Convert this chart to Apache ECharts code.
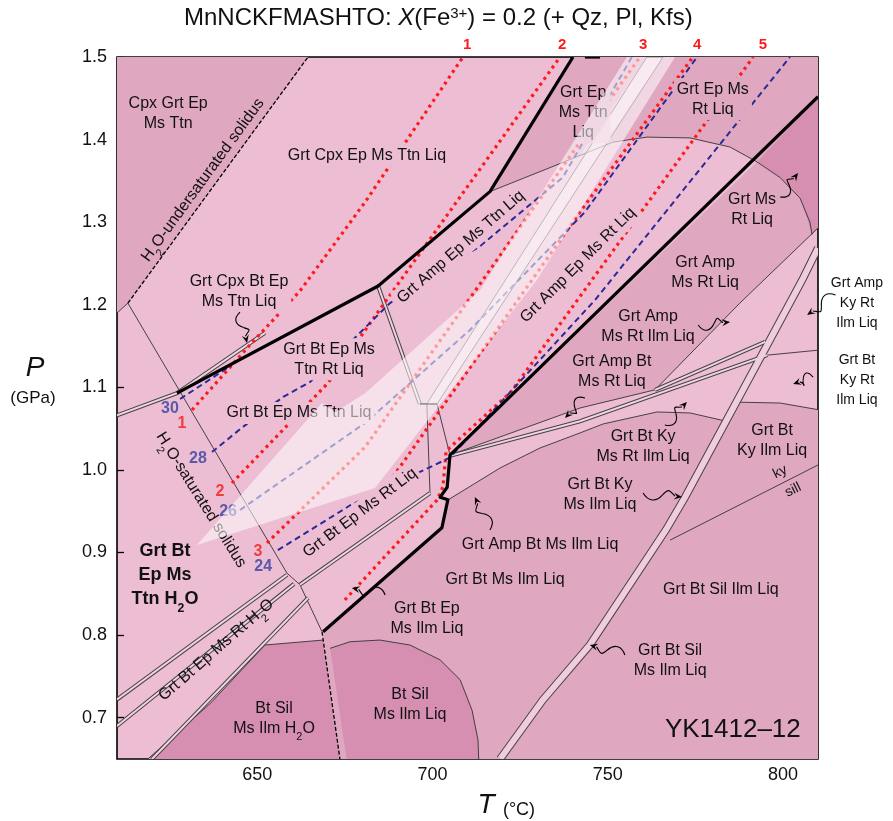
<!DOCTYPE html>
<html><head><meta charset="utf-8">
<script src="https://cdn.jsdelivr.net/npm/echarts@6/dist/echarts.min.js"></script>
<style>html,body{margin:0;background:#fff}#c{width:893px;height:821px}</style>
</head><body><div id="c"></div>
<script>
// ---------------- DATA (T in °C, P in GPa) ----------------
const xTicks = [650, 700, 750, 800];
const yTicks = [0.7, 0.8, 0.9, 1.0, 1.1, 1.2, 1.3, 1.4, 1.5];

const fieldsMedium = [
  [[610,1.5],[664.5,1.5],[613.1,1.202],[610,1.19]],
  [[716.4,1.337],[740.1,1.5],[761.2,1.5],[742.1,1.381]],
  [[765.8,1.5],[810,1.5],[810,1.452],[792.6,1.373],[784.9,1.391],[773.5,1.402],[761.2,1.403],[749.2,1.397]],
  [[705,1.018],[792.6,1.373],[799.2,1.354],[804.9,1.329],[808.3,1.285],[810,1.293],[787.7,1.202],[763.5,1.097],[742.1,1.075]],
  [[668.8,0.804],[702.7,0.930],[704.4,0.9636],[719.3,1.0024],[730.7,1.0266],[742.1,1.0448],[748.7,1.0557],[764.1,1.0702],[773.5,1.069],[783.5,1.0593],[787.7,1.082],[799.2,1.081],[810,1.073],[810,0.65],[673.6,0.65]]
];
const fieldsDark = [
  [[792.6,1.373],[810,1.452],[810,1.293],[808.3,1.285],[804.9,1.329],[799.2,1.354]],
  [[618.8,0.65],[636.8,0.718],[652.2,0.788],[668.8,0.794],[673.6,0.65]],
  [[670.8,0.784],[676.5,0.792],[685,0.794],[693.6,0.788],[702.2,0.770],[707.9,0.746],[711.3,0.709],[713,0.673],[713.2,0.65],[675.5,0.65]]
];
const whiteBand = [[632.8,0.909],[668.5,1.081],[672.2,1.070],[680.8,1.093],[713.6,1.218],[755.5,1.5],[769.2,1.5],[729.8,1.230],[683.6,0.978]];
const innerBand = [[761.2,1.5],[765.8,1.5],[701.3,1.080],[698.4,1.080]];

const thickLines = [
  [[627.1,1.093],[684.5,1.2227],[716.4,1.337],[740.1,1.5]],
  [[743.5,1.5],[747.8,1.5]],
  [[668.8,0.804],[702.7,0.930],[704.4,0.964],[702.2,0.967],[704.2,0.979],[705,1.018],[810,1.452]]
];
const thinLines = [
  [[613.1,1.202],[658.5,0.875],[662.2,0.861],[668.5,0.804]],
  [[613.1,1.202],[610,1.19]],
  [[716.4,1.337],[733.5,1.366],[751.5,1.397],[761.2,1.403],[773.5,1.402],[784.9,1.391],[792.6,1.373],[799.2,1.354],[804.9,1.329],[807.7,1.300],[808.3,1.285]],
  [[810,1.293],[787.7,1.202],[763.5,1.097]],
  [[705,1.018],[742.1,1.075],[763.5,1.097]],
  [[761.2,1.5],[698.4,1.080],[699.3,0.972]],
  [[765.8,1.5],[701.3,1.080],[705,1.018]],
  [[704.4,0.9636],[719.3,1.0024],[730.7,1.0266],[742.1,1.0448],[748.7,1.0557],[764.1,1.0702],[773.5,1.069],[783.5,1.0593]],
  [[787.7,1.082],[799.2,1.081],[810,1.073]],
  [[810,1.006],[767.8,0.915]],
  [[652.2,0.788],[668.8,0.794]],
  [[618.8,0.65],[636.8,0.718],[652.2,0.788]],
  [[795.5,1.139],[810,1.145]],
  [[670.8,0.784],[676.5,0.792],[685,0.794],[693.6,0.788],[702.2,0.770],[707.9,0.746],[711.3,0.709],[713,0.673],[713.2,0.65]]
];
const shortBars = [[[696.4,1.080],[701.3,1.080]]];
const doubleLines = [
  [[684.5,1.2227],[696.4,1.080]],
  [[610,1.066],[627.1,1.093],[652.2,1.166]],
  [[705,1.017],[742.1,1.059],[795.5,1.139]],
  [[763.5,1.097],[794.9,1.155]],
  [[610,0.722],[658.5,0.873]],
  [[610,0.690],[660.5,0.862]],
  [[620,0.65],[664.5,0.845]],
  [[662.2,0.861],[699.3,0.972]]
];
const wideBands = [
  [[810,1.2687],[805.5,1.230],[795.5,1.1513],[772.1,0.9673],[766.6,0.9273],[744.9,0.788],[731.5,0.7215],[719.3,0.65]]
];
const dashedBlack = [
  [[613.1,1.202],[664.5,1.5]],
  [[668.5,0.804],[673.6,0.65]]
];
const redIso = [
  [[631.4,1.0726],[647.4,1.1489],[662.2,1.2167],[680.8,1.3244],[708.7,1.5]],
  [[642.8,0.9842],[670.2,1.1053],[686.5,1.2034],[736.4,1.5]],
  [[652.8,0.9116],[680.8,1.0278],[759.2,1.5]],
  [[688.7,0.9915],[742.1,1.3123],[774.3,1.5]],
  [[675.0,0.8426],[701.3,0.9636],[703.0,0.9794],[703.9,1.023],[722.4,1.0944],[791.5,1.5]]
];
const blueIso = [
  [[628.0,1.0859],[642.8,1.1271]],
  [[637.1,1.0217],[645.9,1.052],[657.4,1.0884],[665.1,1.1065],[687.9,1.2021],[713.6,1.2711],[737.2,1.3542],[756.9,1.5]],
  [[645.1,0.9515],[680.8,1.0569],[710.7,1.1695],[743.5,1.3123],[775.5,1.5]],
  [[655.9,0.903],[676.5,0.957],[705.0,1.015],[746.4,1.2058],[802.0,1.5]]
];

// field labels: [T, P, text]
const labelPos = [
  [624.6,1.431,'Cpx Grt Ep\nMs Ttn'],
  [634.5,1.351,'H{s|2}O-undersaturated solidus'],
  [681.3,1.381,'Grt Cpx Ep Ms Ttn Liq'],
  [644.8,1.2155,'Grt Cpx Bt Ep\nMs Ttn Liq'],
  [670.5,1.134,'Grt Bt Ep Ms\nTtn Rt Liq'],
  [661.9,1.069,'Grt Bt Ep Ms Ttn Liq'],
  [708.1,1.270,'Grt Amp Ep Ms Ttn Liq'],
  [743.0,1.433,'Grt Ep\nMs Ttn\nLiq'],
  [780.0,1.449,'Grt Ep Ms\nRt Liq'],
  [741.5,1.248,'Grt Amp Ep Ms Rt Liq'],
  [791.2,1.3155,'Grt Ms\nRt Liq'],
  [777.8,1.2385,'Grt Amp\nMs Rt Liq'],
  [761.5,1.174,'Grt Amp\nMs Rt Ilm Liq'],
  [751.2,1.119,'Grt Amp Bt\nMs Rt Liq'],
  [760.1,1.028,'Grt Bt Ky\nMs Rt Ilm Liq'],
  [747.8,0.970,'Grt Bt Ky\nMs Ilm Liq'],
  [796.9,1.036,'Grt Bt\nKy Ilm Liq'],
  [679.3,0.948,'Grt Bt Ep Ms Rt Liq'],
  [730.7,0.9092,'Grt Amp Bt Ms Ilm Liq'],
  [720.7,0.8668,'Grt Bt Ms Ilm Liq'],
  [698.4,0.8196,'Grt Bt Ep\nMs Ilm Liq'],
  [782.3,0.8546,'Grt Bt Sil Ilm Liq'],
  [767.8,0.7687,'Grt Bt Sil\nMs Ilm Liq'],
  [693.6,0.7154,'Bt Sil\nMs Ilm Liq'],
  [654.8,0.6995,'Bt Sil\nMs Ilm H{s|2}O'],
  [638.3,0.782,'Grt Bt Ep Ms Rt H{s|2}O'],
  [634.0,0.9636,'H{s|2}O-saturated solidus'],
  [799.2,0.9975,'ky'],
  [802.9,0.9757,'sill']
];
const labelRot = [0,54,0,0,0,0,41,0,0,45,0,0,0,0,0,0,0,37,0,0,0,0,0,0,0,41,-58,26,26];
const labelBg  = ['','','L','L','L','L','L','M','M','L','','','','','','','','L','','','','','','','','','','',''];
const boldLabel = [[623.7,0.8728,'Grt Bt\nEp Ms\nTtn H{s|2}O']];
const outsideLabels = [
  [821.1,1.2021,'Grt Amp\nKy Rt\nIlm Liq'],
  [821.1,1.1089,'Grt Bt\nKy Rt\nIlm Liq']
];
const sampleLabel = [[785.7,0.6851,'YK1412–12']];
const redNums = [[709.9,1.5145,'1'],[737.0,1.5145,'2'],[760.1,1.5145,'3'],[775.5,1.5145,'4'],[794.3,1.5145,'5'],
                 [628.5,1.0556,'1'],[639.4,0.9733,'2'],[650.2,0.9007,'3']];
const blueNums = [[625.1,1.0738,'30'],[633.1,1.0132,'28'],[641.7,0.9491,'26'],[651.7,0.8825,'24']];
// squiggle arrows: [start, end]
const arrows = [
  [[645.1,1.1912],[647.1,1.1537]],
  [[799.2,1.3305],[804.3,1.3596]],
  [[775.8,1.1755],[784.9,1.1791]],
  [[743.5,1.0871],[737.8,1.0629]],
  [[766.3,1.0544],[772.6,1.0823]],
  [[760.1,0.9721],[771.2,0.9673]],
  [[716.4,0.9273],[712.1,0.9673]],
  [[686.5,0.8486],[677.0,0.8571]],
  [[754.9,0.7759],[744.9,0.7881]],
  [[815.0,1.2118],[806.9,1.1876]],
  [[808.6,1.1125],[802.9,1.1041]]
];

// ---------------- RENDERING ----------------
const COL = {L:'#ECBDD3', M:'#E0A7C1', D:'#D68FB1'};
const FONT = '"Liberation Sans", Arial, Helvetica, sans-serif';
const chart = echarts.init(document.getElementById('c'));

function polySeries(polys, style, z, clip=true) {
  return {
    type:'custom', coordinateSystem:'cartesian2d', clip, z, silent:true,
    data: polys.map((p,i)=>[p[0][0],p[0][1],i]),
    renderItem:(params, api)=>({type:'polygon', shape:{points: polys[params.dataIndex].map(pt=>api.coord(pt))}, style})
  };
}
function lineSeries(lines, style, z) {
  return {
    type:'custom', coordinateSystem:'cartesian2d', clip:true, z, silent:true,
    data: lines.map((p,i)=>[p[0][0],p[0][1],i]),
    renderItem:(params, api)=>({type:'polyline', shape:{points: lines[params.dataIndex].map(pt=>api.coord(pt))}, style: Object.assign({fill:null}, style)})
  };
}
function textSeries(items, opts, z) {
  return {
    type:'custom', coordinateSystem:'cartesian2d', clip:false, z, silent:true,
    data: items.map((p,i)=>[p[0],p[1],i]),
    renderItem:(params, api)=>{
      const i = params.dataIndex, it = items[i];
      const c = api.coord([it[0], it[1]]);
      const o = typeof opts === 'function' ? opts(i) : opts;
      const sz = o.size||16;
      return {type:'text', x:c[0], y:c[1], rotation:(o.rot||0)*Math.PI/180,
        style:{text:it[2], align:o.align||'center', verticalAlign:'middle', fill:o.color||'#111',
          font:(o.weight||'normal')+' '+sz+'px '+FONT, lineHeight:o.lh||20,
          backgroundColor:o.bg||null, padding:o.bg?[1,3]:0,
          rich:{s:{fontSize:sz*0.68, verticalAlign:'bottom', fontWeight:o.weight||'normal', fontFamily:FONT, padding:[0,0,-4,0]}}}};
    }
  };
}
function arrowSeries(items, z) {
  return {
    type:'custom', coordinateSystem:'cartesian2d', clip:false, z, silent:true,
    data: items.map((p,i)=>[p[0][0],p[0][1],i]),
    renderItem:(params, api)=>{
      const a = items[params.dataIndex];
      const p0 = api.coord(a[0]), p1 = api.coord(a[1]);
      const dx = p1[0]-p0[0], dy = p1[1]-p0[1], L = Math.hypot(dx,dy);
      const ux = dx/L, uy = dy/L, nx = -uy, ny = ux, w = 5;
      const m = [p0[0]+dx*0.5, p0[1]+dy*0.5];
      const hb = [p1[0]-ux*7, p1[1]-uy*7];
      return {type:'group', children:[
        {type:'bezierCurve', shape:{x1:p0[0],y1:p0[1],x2:m[0],y2:m[1],cpx1:p0[0]+dx*0.15+nx*w*1.6,cpy1:p0[1]+dy*0.15+ny*w*1.6,cpx2:m[0]-dx*0.15+nx*w*1.6,cpy2:m[1]-dy*0.15+ny*w*1.6}, style:{stroke:'#000',lineWidth:1.1,fill:null}},
        {type:'bezierCurve', shape:{x1:m[0],y1:m[1],x2:hb[0],y2:hb[1],cpx1:m[0]+dx*0.15-nx*w*1.6,cpy1:m[1]+dy*0.15-ny*w*1.6,cpx2:hb[0]-ux*6-nx*w,cpy2:hb[1]-uy*6-ny*w}, style:{stroke:'#000',lineWidth:1.1,fill:null}},
        {type:'polygon', shape:{points:[p1,[hb[0]+nx*3.5-ux*1,hb[1]+ny*3.5-uy*1],[p1[0]-ux*5,p1[1]-uy*5],[hb[0]-nx*3.5-ux*1,hb[1]-ny*3.5-uy*1]]}, style:{fill:'#000'}}
      ]};
    }
  };
}

const labelOpts = i => ({rot: labelRot[i], bg: labelBg[i] ? COL[labelBg[i]] : null, size: (i>=27?14:16), lh: 20});

const option = {
  animation:false,
  backgroundColor:'#fff',
  grid:{left:117, right:75, top:57, bottom:62, show:true, backgroundColor:COL.L, borderColor:'#000', borderWidth:1.6},
  xAxis:{type:'value', min:610, max:810, splitLine:{show:false}, axisLine:{show:false},
    axisTick:{inside:true, length:7, customValues:xTicks, lineStyle:{color:'#000', width:1.3}},
    axisLabel:{customValues:xTicks, fontSize:18, color:'#111', margin:7, fontFamily:FONT}},
  yAxis:{type:'value', min:0.65, max:1.5, splitLine:{show:false}, axisLine:{show:false},
    axisTick:{inside:true, length:7, customValues:yTicks, lineStyle:{color:'#000', width:1.3}},
    axisLabel:{customValues:yTicks, fontSize:18, color:'#111', margin:10, fontFamily:FONT, formatter:v=>v.toFixed(1)}},
  graphic:[
    {type:'text', left:184, top:6, style:{text:'MnNCKFMASHTO: {i|X}(Fe{sup|3+}) = 0.2 (+ Qz, Pl, Kfs)', font:'24px '+FONT, fill:'#111',
      rich:{i:{fontStyle:'italic', fontSize:24, fontFamily:FONT}, sup:{fontSize:15, verticalAlign:'top', fontFamily:FONT, padding:[0,0,8,0]}}}},
    {type:'text', x:35, y:368, style:{text:'P', font:'italic 28px '+FONT, fill:'#111', align:'center', verticalAlign:'middle'}},
    {type:'text', x:33, y:398, style:{text:'(GPa)', font:'17px '+FONT, fill:'#111', align:'center', verticalAlign:'middle'}},
    {type:'text', x:486, y:805, style:{text:'T', font:'italic 28px '+FONT, fill:'#111', align:'center', verticalAlign:'middle'}},
    {type:'text', x:519, y:810, style:{text:'(°C)', font:'18px '+FONT, fill:'#111', align:'center', verticalAlign:'middle'}}
  ],
  series:[
    polySeries(fieldsMedium, {fill:COL.M}, 1),
    polySeries(fieldsDark, {fill:COL.D}, 2),
    lineSeries(thinLines, {stroke:'#333', lineWidth:0.9}, 3),
    lineSeries(doubleLines, {stroke:'#444', lineWidth:4}, 3),
    lineSeries(doubleLines, {stroke:'#F2D3E1', lineWidth:2}, 4),
    lineSeries(wideBands, {stroke:'#444', lineWidth:8}, 3),
    lineSeries(wideBands, {stroke:'#F0CCDD', lineWidth:6}, 4),
    lineSeries(shortBars, {stroke:'#000', lineWidth:1.6}, 4),
    lineSeries(dashedBlack, {stroke:'#000', lineWidth:1.3, lineDash:[4,2]}, 4),
    lineSeries(redIso, {stroke:'#FF1A1A', lineWidth:3.2, lineDash:[3,4]}, 5),
    lineSeries(blueIso, {stroke:'#2A2A96', lineWidth:2, lineDash:[6,4]}, 5),
    textSeries(labelPos, labelOpts, 6),
    lineSeries(thickLines, {stroke:'#000', lineWidth:3.2, lineJoin:'round'}, 7),
    textSeries(boldLabel, {weight:'bold', size:18, lh:24}, 7),
    textSeries(redNums.slice(5), {color:'#F23B3B', size:16, weight:'bold'}, 7),
    textSeries(blueNums, {color:'#5A5AAA', size:16, weight:'bold'}, 7),
    polySeries([whiteBand], {fill:'rgba(255,255,255,0.55)'}, 8),
    polySeries([innerBand], {fill:'rgba(255,255,255,0.3)'}, 8),
    textSeries(redNums.slice(0,5), {color:'#FF1A1A', size:15, weight:'bold'}, 9),
    textSeries(outsideLabels, {size:14, lh:20}, 9),
    textSeries(sampleLabel, {size:26}, 9),
    arrowSeries(arrows, 9)
  ]
};
chart.setOption(option);
</script>
</body></html>
